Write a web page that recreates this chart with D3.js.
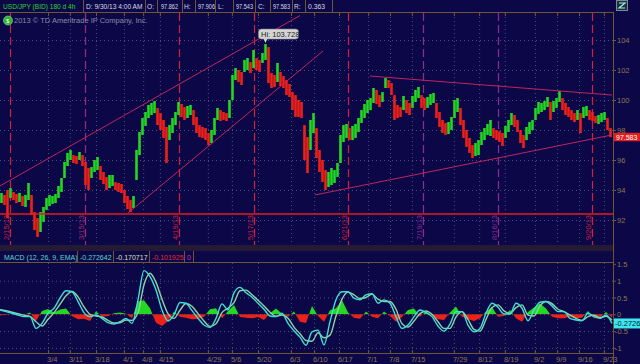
<!DOCTYPE html>
<html>
<head>
<meta charset="utf-8">
<script src="https://cdn.jsdelivr.net/npm/d3@7"></script>
<style>
  body { margin: 0; background: #0c0848; }
  svg { display: block; }
  text { font-family: "Liberation Sans", Arial, sans-serif; }
</style>
</head>
<body>
<svg id="chart" width="640" height="364"></svg>
<script>
// USD/JPY 4h bars (one sample = a few bars)
const priceHi = [
  93.80, 93.67, 94.00, 94.13, 93.87, 93.73, 93.80, 93.60, 93.67, 94.47,
  93.67, 92.53, 92.13, 92.53, 92.87, 93.47, 93.67, 93.60, 93.73, 94.27,
  94.80, 95.87, 96.47, 96.67, 96.33, 96.27, 96.53, 96.33, 95.87, 95.47,
  95.53, 96.00, 96.20, 95.60, 95.20, 94.87, 95.00, 95.00, 94.53, 94.47,
  94.40, 94.00, 93.60, 93.33, 93.60, 96.67, 97.87, 98.80, 99.20, 99.67,
  99.80, 99.93, 99.47, 99.13, 98.67, 98.20, 98.33, 98.80, 99.20, 99.87,
  99.73, 99.53, 99.60, 99.67, 99.33, 98.87, 98.33, 98.20, 98.13, 97.80,
  98.00, 98.80, 99.47, 99.33, 99.20, 99.13, 100.00, 101.67, 102.13, 102.00,
  101.87, 102.67, 102.80, 102.53, 103.33, 102.80, 102.67, 103.13, 103.73, 103.53,
  101.80, 101.67, 102.47, 101.87, 101.60, 101.33, 101.07, 100.53, 100.33, 100.00,
  99.87, 98.33, 97.53, 98.67, 99.13, 98.13, 96.67, 96.00, 95.33, 95.20,
  95.47, 95.33, 95.80, 97.67, 98.33, 98.40, 98.13, 98.27, 98.40, 98.80,
  99.33, 99.73, 100.00, 100.13, 100.80, 100.67, 100.33, 100.53, 101.47, 101.33,
  101.13, 100.33, 99.67, 99.53, 100.27, 100.00, 99.80, 100.27, 100.67, 100.87,
  100.33, 100.13, 100.20, 100.40, 100.47, 99.80, 99.20, 98.67, 98.47, 98.53,
  98.87, 100.00, 100.13, 99.47, 98.67, 98.00, 97.47, 97.00, 97.13, 97.33,
  97.87, 98.13, 98.40, 98.67, 98.13, 98.00, 97.93, 97.80, 98.27, 98.67,
  99.13, 99.00, 98.67, 98.00, 97.67, 98.20, 98.53, 98.67, 99.47, 99.87,
  99.80, 99.93, 100.20, 99.87, 99.93, 100.13, 100.60, 100.13, 99.80, 99.53,
  99.33, 99.13, 99.33, 99.13, 99.53, 99.60, 99.33, 99.20, 98.93, 99.00,
  99.13, 99.20, 98.80, 98.13
]
const priceLo = [
  93.13, 93.00, 92.13, 93.47, 93.33, 93.13, 93.20, 92.93, 92.87, 93.33,
  92.33, 91.33, 90.87, 91.20, 91.87, 92.67, 92.93, 93.07, 93.13, 93.47,
  93.87, 94.80, 95.60, 96.00, 95.80, 95.73, 96.00, 95.60, 94.33, 94.00,
  94.80, 95.20, 95.33, 94.67, 94.40, 94.00, 94.13, 94.27, 94.00, 93.87,
  93.80, 93.13, 92.73, 92.53, 92.80, 94.67, 96.33, 97.67, 98.27, 98.80,
  99.00, 99.13, 98.33, 98.00, 97.47, 95.80, 97.33, 97.80, 98.33, 99.00,
  98.87, 98.67, 98.80, 99.00, 98.33, 97.80, 97.53, 97.47, 97.33, 97.00,
  97.13, 97.67, 98.67, 98.60, 98.67, 98.60, 98.80, 100.00, 101.33, 101.20,
  101.00, 101.87, 102.00, 101.80, 102.13, 102.00, 101.87, 102.47, 102.67, 101.13,
  100.80, 100.87, 101.20, 100.93, 100.80, 100.33, 100.20, 99.33, 98.87, 98.87,
  98.80, 96.00, 95.13, 96.67, 97.80, 96.13, 95.20, 94.53, 94.00, 94.20,
  94.33, 94.47, 94.87, 95.80, 97.20, 97.47, 97.33, 97.33, 97.47, 97.87,
  98.47, 98.80, 99.13, 99.33, 99.80, 99.73, 99.53, 99.87, 100.80, 100.80,
  100.33, 98.67, 98.80, 98.87, 99.33, 99.13, 99.00, 99.47, 99.87, 100.13,
  99.47, 99.33, 99.47, 99.67, 99.80, 98.80, 98.20, 97.80, 97.67, 97.73,
  98.00, 98.80, 99.20, 98.33, 97.47, 96.87, 96.47, 96.13, 96.27, 96.33,
  97.00, 97.33, 97.67, 97.60, 97.47, 97.33, 97.20, 96.93, 97.47, 97.87,
  98.33, 98.20, 97.87, 97.13, 96.80, 97.33, 97.73, 98.00, 98.67, 99.07,
  99.20, 99.33, 99.53, 98.67, 99.20, 99.47, 99.87, 99.33, 99.00, 98.87,
  98.67, 98.53, 98.67, 97.80, 98.80, 98.93, 98.67, 98.60, 98.47, 98.40,
  98.53, 98.67, 98.00, 97.53
]

// MACD (12, 26, 9, EMA), one sample every 2 price samples
const macdValue = [
  0.13, 0.08, 0.03, -0.02, -0.07, -0.07, -0.42, -0.27, 0.03, 0.18,
  0.48, 0.70, 0.67, 0.38, 0.05, -0.07, -0.02, -0.12, -0.25, -0.29,
  -0.22, -0.12, -0.27, 0.43, 1.30, 1.12, 0.72, 0.13, -0.20, -0.02,
  0.35, 0.33, 0.11, -0.12, -0.32, -0.39, -0.12, 0.31, 0.13, 0.64,
  0.80, 0.64, 0.51, 0.33, 0.15, -0.05, -0.07, 0.03, -0.27, -0.49,
  -0.68, -0.92, -0.52, -0.47, -0.91, -0.22, 0.43, 0.67, 0.67, 0.48,
  0.43, 0.58, 0.61, 0.33, 0.43, 0.33, -0.07, -0.42, -0.32, -0.07,
  0.13, 0.05, -0.07, -0.35, -0.50, -0.29, 0.08, 0.08, -0.32, -0.52,
  -0.42, 0.03, 0.33, 0.21, 0.01, 0.01, 0.33, 0.18, -0.19, 0.13,
  0.36, 0.38, 0.25, 0.08, 0.08, -0.12, -0.17, -0.19, 0.03, -0.07,
  -0.12, -0.02, -0.27
]
const macdAvg = [
  0.14, 0.11, 0.06, 0.02, -0.03, -0.06, -0.22, -0.35, -0.15, 0.05,
  0.30, 0.55, 0.68, 0.52, 0.22, 0.00, -0.05, -0.08, -0.18, -0.26,
  -0.25, -0.17, -0.18, 0.05, 0.88, 1.22, 0.95, 0.45, 0.02, -0.12,
  0.12, 0.32, 0.24, 0.02, -0.20, -0.36, -0.28, 0.05, 0.18, 0.35,
  0.70, 0.72, 0.58, 0.42, 0.25, 0.06, -0.06, -0.02, -0.12, -0.38,
  -0.58, -0.78, -0.80, -0.55, -0.70, -0.62, -0.05, 0.45, 0.66, 0.58,
  0.47, 0.50, 0.60, 0.45, 0.38, 0.38, 0.15, -0.28, -0.38, -0.20,
  0.02, 0.10, 0.00, -0.22, -0.42, -0.42, -0.08, 0.08, -0.15, -0.45,
  -0.50, -0.15, 0.20, 0.28, 0.10, 0.02, 0.20, 0.28, -0.02, -0.05,
  0.25, 0.38, 0.32, 0.15, 0.08, -0.02, -0.12, -0.18, -0.07, -0.03,
  -0.10, -0.06, -0.17
]
const macdDiff = [
  -0.03, -0.02, 0.01, 0.02, -0.01, 0.05, -0.20, 0.10, 0.16, 0.05,
  0.14, 0.17, -0.05, -0.15, -0.13, -0.20, 0.09, -0.07, -0.05, 0.03,
  0.05, 0.02, -0.12, 0.38, 0.42, 0.18, -0.25, -0.35, -0.20, 0.08,
  -0.07, -0.10, -0.15, -0.14, -0.07, 0.15, 0.18, -0.12, 0.10, 0.28,
  -0.08, -0.10, -0.12, -0.08, -0.17, 0.03, 0.17, 0.02, -0.07, 0.08,
  -0.22, -0.26, 0.25, -0.05, -0.22, 0.12, 0.18, 0.42, 0.05, -0.10,
  -0.13, 0.08, -0.07, -0.12, 0.08, -0.05, -0.22, -0.08, 0.13, 0.17,
  -0.07, 0.08, -0.03, -0.15, -0.17, 0.05, 0.23, -0.07, -0.15, -0.20,
  -0.12, 0.08, 0.22, -0.07, -0.05, 0.13, -0.12, -0.22, 0.07, 0.20,
  0.32, 0.17, -0.07, -0.12, -0.12, -0.07, -0.12, -0.10, 0.10, -0.12,
  -0.10, 0.07, -0.10
]

// time axis: labels and the sample where each falls
const dateTicks = ["3/4", "3/11", "3/18", "4/1", "4/8", "4/15", "4/29", "5/6", "5/20", "6/3", "6/10",
                   "6/17", "7/1", "7/8", "7/15", "7/29", "8/12", "8/19", "9/2", "9/9", "9/16", "9/23"]
const dateTickAt = [16, 23.3, 32, 41.3, 47.7, 53.3, 69.3, 77.3, 86, 97, 104.7,
                    113, 122.7, 130, 137.3, 151.3, 159.7, 168.3, 178.3, 185.7, 193, 201.3]

// option expiration markers
const expiries = ["2/15/13", "3/15/13", "4/19/13", "5/17/13", "6/21/13", "7/19/13", "8/16/13", "9/20/13"]
const expiryAt = [3.3, 28.3, 59.7, 84.7, 116, 141, 166, 197.3]

// drawn trend lines as [sample, price] pairs
const trendLines = [
  [[0, 94.27], [100, 105.63]],
  [[42.7, 92.47], [107.7, 103.27]],
  [[123.3, 101.60], [204, 100.33]],
  [[105, 93.67], [204, 97.67]]
]
const supportLevel = 92.40

const priceTicks = [92, 94, 96, 98, 100, 102, 104]
const macdTicks = [-1, -0.5, 0, 0.5, 1, 1.5]
const macdTickText = ["-1", "-0.5", "0", "0.5", "1", "1.5"]

const highBar = 88, highPrice = 103.728
const lastClose = 97.583
const macdLast = ["-0.272642", "-0.170717", "-0.101925", "0"]
const quote = ["97.862", "97.906", "97.543", "97.583", "0.363"]

// ---- styles ----
const brown = "#6e5634", tickCol = "#8c7652", gridCol = "#4c4c84"
const upCol = "#22d822", downCol = "#ee2018"
const expiryCol = ["#d0203a", "#a0287e", "#d0203a", "#d0203a", "#d0203a", "#8e2c92", "#8e2c92", "#d0203a"]

const svg = d3.select("#chart")
const plotR = 613
const mainTop = 13, mainBot = 245, macdTop = 263, macdBot = 353

const x = d3.scaleLinear().domain([0, priceHi.length]).range([0, 612])
const yP = d3.scaleLinear().domain([92, 104]).range([220, 40])
const yM = d3.scaleLinear().domain([-1, 1.5]).range([347.9, 263.9])

const defs = svg.append("defs")
defs.append("clipPath").attr("id", "clipMain")
    .append("rect").attr("x", 0).attr("y", mainTop).attr("width", plotR).attr("height", mainBot - mainTop)
defs.append("clipPath").attr("id", "clipMacd")
    .append("rect").attr("x", 0).attr("y", macdTop).attr("width", plotR).attr("height", macdBot - macdTop)
defs.append("clipPath").attr("id", "clipPos")
    .append("rect").attr("x", 0).attr("y", macdTop).attr("width", plotR).attr("height", yM(0) - macdTop)
defs.append("clipPath").attr("id", "clipNeg")
    .append("rect").attr("x", 0).attr("y", yM(0)).attr("width", plotR).attr("height", macdBot - yM(0))

svg.append("rect").attr("width", 640).attr("height", 364).attr("fill", "#0c0848")

// grid
const grid = svg.append("g").attr("stroke", gridCol).attr("stroke-dasharray", "1,3")
grid.selectAll(".hp").data(priceTicks).join("line")
    .attr("x1", 0).attr("x2", plotR).attr("y1", d => yP(d) + 0.5).attr("y2", d => yP(d) + 0.5)
grid.selectAll(".hm").data(macdTicks.filter(d => d !== 1.5)).join("line")
    .attr("x1", 0).attr("x2", plotR).attr("y1", d => yM(d) + 0.5).attr("y2", d => yM(d) + 0.5)
dateTickAt.forEach(t => {
  grid.append("line").attr("x1", x(t) + 0.5).attr("x2", x(t) + 0.5).attr("y1", mainTop).attr("y2", mainBot)
  grid.append("line").attr("x1", x(t) + 0.5).attr("x2", x(t) + 0.5).attr("y1", macdTop).attr("y2", macdBot)
})

// expiration lines
const exp = svg.append("g").attr("clip-path", "url(#clipMain)")
exp.selectAll("line").data(expiries).join("line")
   .attr("x1", (d, i) => Math.round(x(expiryAt[i])) + 0.5)
   .attr("x2", (d, i) => Math.round(x(expiryAt[i])) + 0.5)
   .attr("y1", mainTop).attr("y2", mainBot)
   .attr("stroke", (d, i) => expiryCol[i]).attr("stroke-width", 1.2)
   .attr("stroke-dasharray", "8,4")
exp.selectAll("text").data(expiries).join("text")
   .attr("transform", (d, i) => "translate(" + (Math.round(x(expiryAt[i])) - 1.5) + ",240) rotate(-90)")
   .attr("font-size", 7.5).attr("fill", (d, i) => expiryCol[i])
   .text(d => d)

// candles
const main = svg.append("g").attr("clip-path", "url(#clipMain)")
const mids = priceHi.map((h, i) => (h + priceLo[i]) / 2)
main.selectAll("rect.bar").data(priceHi).join("rect")
    .attr("class", "bar")
    .attr("x", (d, i) => x(i) + 0.2)
    .attr("width", x(1) - x(0) - 0.4)
    .attr("y", d => yP(d))
    .attr("height", (d, i) => Math.max(1, yP(priceLo[i]) - yP(d)))
    .attr("fill", (d, i) => (i === 0 || mids[i] >= mids[i - 1]) ? upCol : downCol)

// trend lines and support
main.selectAll("line.trend").data(trendLines).join("line")
    .attr("class", "trend")
    .attr("x1", d => x(d[0][0])).attr("y1", d => yP(d[0][1]))
    .attr("x2", d => x(d[1][0])).attr("y2", d => yP(d[1][1]))
    .attr("stroke", "#c0245c").attr("stroke-width", 1)
main.append("line")
    .attr("x1", 0).attr("x2", plotR).attr("y1", yP(supportLevel)).attr("y2", yP(supportLevel))
    .attr("stroke", "#e01c1c").attr("stroke-width", 1.3)

// high callout
const hx = x(highBar + 0.5), hy = yP(highPrice)
const hi = svg.append("g")
hi.append("rect").attr("x", hx - 7).attr("y", hy - 15).attr("width", 40).attr("height", 10).attr("rx", 3)
  .attr("fill", "#d4d4d4").attr("stroke", "#8a8a8a").attr("stroke-width", 0.6)
hi.append("path").attr("d", `M${hx - 2},${hy - 5.5}L${hx + 2},${hy - 5.5}L${hx},${hy - 1}Z`).attr("fill", "#d4d4d4")
hi.append("text").attr("x", hx - 4.5).attr("y", hy - 7.3).attr("font-size", 7.5).attr("fill", "#1a1a1a")
  .text("Hi: " + highPrice)

// MACD histogram
const area = d3.area().x((d, i) => x(i * 2)).y0(yM(0)).y1(d => yM(d))
const macdG = svg.append("g").attr("clip-path", "url(#clipMacd)")
macdG.append("g").attr("clip-path", "url(#clipPos)")
     .append("path").datum(macdDiff).attr("d", area).attr("fill", upCol)
macdG.append("g").attr("clip-path", "url(#clipNeg)")
     .append("path").datum(macdDiff).attr("d", area).attr("fill", downCol)
const mLine = d3.line().x((d, i) => x(i * 2)).y(d => yM(d)).curve(d3.curveMonotoneX)
macdG.append("path").datum(macdAvg).attr("d", mLine)
     .attr("fill", "none").attr("stroke", "#8ed2a4").attr("stroke-width", 1.4)
macdG.append("path").datum(macdValue).attr("d", mLine)
     .attr("fill", "none").attr("stroke", "#3ce0d8").attr("stroke-width", 1.4)

// panel frames
const frame = svg.append("g").attr("stroke", brown).attr("fill", "none")
frame.append("line").attr("x1", 0).attr("x2", plotR).attr("y1", 12.5).attr("y2", 12.5)
frame.append("line").attr("x1", plotR + 0.5).attr("x2", plotR + 0.5).attr("y1", 12).attr("y2", 364)
svg.append("rect").attr("x", 0).attr("y", 245).attr("width", plotR).attr("height", 6).attr("fill", "#241a36")
frame.append("line").attr("x1", 0).attr("x2", plotR).attr("y1", 245.5).attr("y2", 245.5)
frame.append("line").attr("x1", 0).attr("x2", plotR).attr("y1", 247.5).attr("y2", 247.5).attr("stroke-dasharray", "1,1")
frame.append("line").attr("x1", 0).attr("x2", plotR).attr("y1", 250.5).attr("y2", 250.5)
frame.append("line").attr("x1", 0).attr("x2", plotR).attr("y1", 262.5).attr("y2", 262.5)
frame.append("line").attr("x1", 0).attr("x2", plotR).attr("y1", 353.5).attr("y2", 353.5)

// date ticks
dateTickAt.forEach(t => {
  frame.append("line").attr("x1", x(t) + 0.5).attr("x2", x(t) + 0.5).attr("y1", 12).attr("y2", 16)
  frame.append("line").attr("x1", x(t) + 0.5).attr("x2", x(t) + 0.5).attr("y1", 350).attr("y2", 354)
})
svg.append("g").selectAll("text").data(dateTicks).join("text")
   .attr("x", (d, i) => x(dateTickAt[i]) - 1).attr("y", 362)
   .attr("font-size", 7.5).attr("fill", tickCol).text(d => d)

// right axes
const ax = svg.append("g").attr("font-size", 7.5).attr("fill", tickCol)
priceTicks.forEach(p => {
  frame.append("line").attr("x1", plotR).attr("x2", plotR + 3).attr("y1", yP(p) + 0.5).attr("y2", yP(p) + 0.5)
  ax.append("text").attr("x", plotR + 4).attr("y", yP(p) + 2.5).text(p)
})
macdTicks.forEach((m, i) => {
  frame.append("line").attr("x1", plotR).attr("x2", plotR + 3).attr("y1", yM(m) + 0.5).attr("y2", yM(m) + 0.5)
  ax.append("text").attr("x", plotR + (m < 0 ? 2 : 4)).attr("y", yM(m) + 3).text(macdTickText[i])
})

// last price / macd tags
const py = yP(lastClose)
svg.append("rect").attr("x", plotR + 1).attr("y", py - 3.5).attr("width", 27).attr("height", 8.5).attr("fill", "#e41e1e")
svg.append("text").attr("x", plotR + 3).attr("y", py + 3.5).attr("font-size", 7).attr("fill", "#ffffff").text(lastClose)
const my = yM(+macdLast[0])
svg.append("rect").attr("x", plotR + 1).attr("y", my - 5).attr("width", 27).attr("height", 10).attr("fill", "#3ce8ec")
svg.append("text").attr("x", plotR + 2).attr("y", my + 3).attr("font-size", 7.5).attr("fill", "#0c2040").text("-0.2726")

// header row
const head = svg.append("g").attr("font-size", 6.6)
const headSeps = [83, 145, 157, 182, 195, 215, 233, 255, 270, 292, 305, 332]
headSeps.forEach(s => frame.append("line").attr("x1", s + 0.5).attr("x2", s + 0.5).attr("y1", 0).attr("y2", 12))
head.append("text").attr("x", 3).attr("y", 9).attr("fill", "#2ad42a").text("USD/JPY (BID) 180 d 4h")
head.append("text").attr("x", 86).attr("y", 9).attr("fill", "#d8d8e0").text("D: 9/30/13 4:00 AM")
const heads = [["O:", 147], ["H:", 184], ["L:", 218], ["C:", 258], ["R:", 294]]
const vals = [161, 198, 236, 273, 308]
heads.forEach((h, i) => {
  head.append("text").attr("x", h[1]).attr("y", 9).attr("fill", "#d8d8e0").text(h[0])
  head.append("text").attr("x", vals[i]).attr("y", 9).attr("fill", "#d8d8e0")
      .attr("textLength", 17).attr("lengthAdjust", "spacingAndGlyphs").text(quote[i])
})
svg.append("rect").attr("x", 616.5).attr("y", 0.5).attr("width", 11).attr("height", 10)
   .attr("fill", "#203040").attr("stroke", "#7a8a9a")
svg.append("path").attr("d", "M619,3L625,3L619,8L625,8").attr("fill", "none").attr("stroke", "#9ff0e0").attr("stroke-width", 1.2)

// copyright
svg.append("circle").attr("cx", 8).attr("cy", 20.5).attr("r", 4.5).attr("fill", "#2cb22c").attr("stroke", "#a0e0a0").attr("stroke-width", 0.6)
svg.append("text").attr("x", 6).attr("y", 23).attr("font-size", 6).attr("fill", "#ffffff").text("$")
svg.append("text").attr("x", 14).attr("y", 23).attr("font-size", 7.5).attr("fill", "#8888a4")
   .text("2013 © TD Ameritrade IP Company, Inc.")

// MACD header
const mh = svg.append("g").attr("font-size", 7)
;[77, 113, 149, 184, 193].forEach(s => frame.append("line").attr("x1", s + 0.5).attr("x2", s + 0.5).attr("y1", 251).attr("y2", 262))
mh.append("text").attr("x", 4).attr("y", 259.5).attr("fill", "#5ad6c8").text("MACD (12, 26, 9, EMA)")
mh.append("text").attr("x", 80).attr("y", 259.5).attr("fill", "#5ad6c8").text(macdLast[0])
mh.append("text").attr("x", 116).attr("y", 259.5).attr("fill", "#d8e0a8").text(macdLast[1])
mh.append("text").attr("x", 152).attr("y", 259.5).attr("fill", "#e82828").text(macdLast[2])
mh.append("text").attr("x", 187).attr("y", 259.5).attr("fill", "#c030c0").text(macdLast[3])
</script>
</body>
</html>
